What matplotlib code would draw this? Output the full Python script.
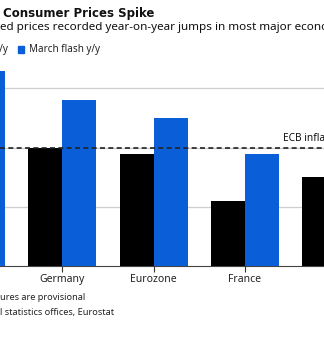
import numpy as np
import matplotlib
matplotlib.use("Agg")
import matplotlib.pyplot as plt
from matplotlib.patches import Rectangle
from matplotlib.transforms import blended_transform_factory

# ---- data (% y/y) ----
categories = ["Spain", "Germany", "Eurozone", "France", "Italy"]
feb_yy = [np.nan, 2.0, 1.9, 1.1, 1.5]
march_flash_yy = [3.3, 2.8, 2.5, 1.9, np.nan]
ecb_target = 2.0
series_labels = ["February y/y", "March flash y/y"]

BLUE = "#0a5ed7"
BLACK = "#000000"
FONT = ["Noto Sans", "DejaVu Sans"]
plt.rcParams["font.family"] = FONT

W, H = 324, 343
fig = plt.figure(figsize=(W / 100, H / 100), dpi=100)

def fx(px):
    return px / W

def fy(py):
    return 1 - py / H

# axes: baseline at y=266px, 59.2 px per unit
ax = fig.add_axes([0, fy(266), 1, 3.5 * 59.2 / H])
x = np.arange(len(categories))
w = 0.372
ax.bar(x - w / 2, feb_yy, width=w, color=BLACK, zorder=3)
ax.bar(x + w / 2, march_flash_yy, width=w, color=BLUE, zorder=3)

ax.set_yticks([1, 2, 3])
ax.yaxis.grid(True, color="#cfcfcf", linewidth=0.9, zorder=0)
ax.tick_params(axis="y", left=False, labelleft=False)
ax.set_xticks(x)
ax.set_xticklabels(categories, fontsize=7.5, color="#222222")
ax.tick_params(axis="x", length=4, width=0.8, color="#333333", pad=2)
ax.set_xlim(1 - 62.3 / 91.3, 1 + (W - 62.3) / 91.3)
ax.set_ylim(0, 3.5)
for s in ["top", "left", "right"]:
    ax.spines[s].set_visible(False)
ax.spines["bottom"].set_color("#444444")
ax.spines["bottom"].set_linewidth(0.8)
ax.set_axisbelow(True)

ax.axhline(ecb_target, color="#222222", linestyle=(0, (3, 2)), linewidth=1.2, zorder=4)
tr = blended_transform_factory(ax.transAxes, ax.transData)
ax.text(fx(283), ecb_target + 0.06, "ECB inflation target", transform=tr,
        fontsize=7.3, color="#111111", ha="left", va="bottom")

# title / subtitle
fig.text(fx(3), fy(14), "Consumer Prices Spike", fontsize=8.5, fontweight="bold",
         family=["DejaVu Sans"], color="#111111", ha="left", va="center")
fig.text(fx(0), fy(27.5), "ed prices recorded year-on-year jumps in most major economies",
         fontsize=8.4, color="#111111", ha="left", va="center")

# legend
ly = fy(49.5)
fig.text(fx(8), ly, series_labels[0], fontsize=7.1, color="#222222", ha="right", va="center")
fig.patches.append(Rectangle((fx(18), fy(52.5)), fx(6), 6 / H, transform=fig.transFigure,
                             color=BLUE, figure=fig))
fig.text(fx(29), ly, series_labels[1], fontsize=7.1, color="#222222", ha="left", va="center")

# footnotes
fig.text(fx(0), fy(298), "ures are provisional", fontsize=6.6, color="#222222",
         ha="left", va="center")
fig.text(fx(0), fy(312.5), "l statistics offices, Eurostat", fontsize=6.6, color="#222222",
         ha="left", va="center")

fig.savefig("out.png", dpi=100, facecolor="white")
